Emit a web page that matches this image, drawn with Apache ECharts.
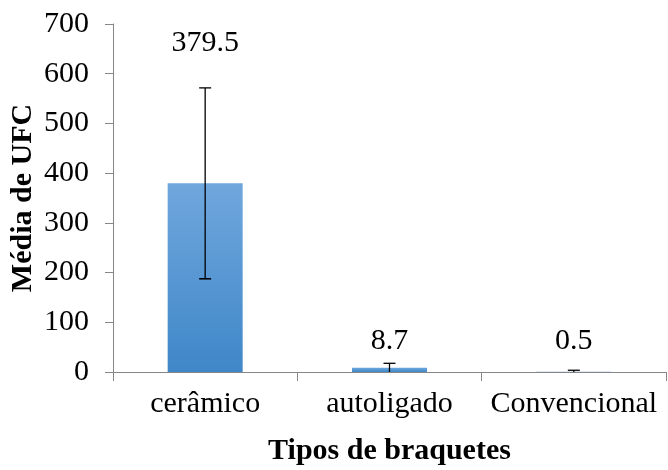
<!DOCTYPE html>
<html>
<head>
<meta charset="utf-8">
<script src="https://cdn.jsdelivr.net/npm/echarts@6/dist/echarts.min.js"></script>
<style>html,body{margin:0;padding:0;background:#fff}#c{width:668px;height:470px}</style>
</head>
<body>
<div id="c"></div>
<script>
const categories = ['cerâmico', 'autoligado', 'Convencional'];
const means = [379.5, 8.7, 0.5];
const errors = [192, 8.8, 3];
const yTicks = [0, 100, 200, 300, 400, 500, 600, 700];
const xTitle = 'Tipos de braquetes';
const yTitle = 'Média de UFC';

const font = 'Liberation Serif, Times New Roman, serif';
const labelDistance = [125, 12, 16];

const chart = echarts.init(document.getElementById('c'), null, {renderer: 'canvas'});
chart.setOption({
  animation: false,
  grid: {left: 113, right: 2, top: 24, bottom: 98, containLabel: false, outerBoundsMode: 'none'},
  xAxis: {
    type: 'category', data: categories,
    axisLine: {lineStyle: {color: '#868686', width: 1}},
    axisTick: {show: true, length: 9, alignWithLabel: false, lineStyle: {color: '#868686'}},
    axisLabel: {color: '#000', fontFamily: font, fontSize: 30, margin: 17, interval: 0, hideOverlap: false},
    name: xTitle, nameLocation: 'middle', nameGap: 64, nameMoveOverlap: false,
    nameTextStyle: {color: '#000', fontFamily: font, fontSize: 30, fontWeight: 'bold'}
  },
  yAxis: {
    type: 'value', min: yTicks[0], max: yTicks[yTicks.length - 1], interval: 100,
    axisLine: {show: true, lineStyle: {color: '#868686', width: 1}},
    axisTick: {show: true, length: 8, lineStyle: {color: '#868686'}},
    splitLine: {show: false},
    axisLabel: {color: '#000', fontFamily: font, fontSize: 30, margin: 24},
    name: yTitle, nameLocation: 'middle', nameGap: 75, nameRotate: 90, nameMoveOverlap: false,
    nameTextStyle: {color: '#000', fontFamily: font, fontSize: 30, fontWeight: 'bold'}
  },
  series: [
    {
      type: 'bar', barWidth: 75,
      data: means.map((v, i) => ({
        value: v,
        label: {show: true, position: 'top', distance: labelDistance[i], formatter: String(v),
                color: '#000', fontFamily: font, fontSize: 30}
      })),
      itemStyle: {color: new echarts.graphic.LinearGradient(0, 0, 0, 1, [
        {offset: 0, color: '#70a7dd'}, {offset: 1, color: '#3f87c8'}])}
    },
    {
      type: 'custom',
      data: means.map((v, i) => [i, v - errors[i], v + errors[i]]),
      renderItem: function (params, api) {
        const x = api.value(0);
        const lo = api.coord([x, Math.max(api.value(1), 0)]);
        const hi = api.coord([x, api.value(2)]);
        const cap = 6;
        const children = [
          {type: 'line', shape: {x1: hi[0], y1: hi[1], x2: lo[0], y2: lo[1]}, style: {stroke: '#000', lineWidth: 1.3}},
          {type: 'line', shape: {x1: hi[0] - cap, y1: hi[1], x2: hi[0] + cap, y2: hi[1]}, style: {stroke: '#000', lineWidth: 1.3}}
        ];
        if (api.value(1) > 0) {
          children.push({type: 'line', shape: {x1: lo[0] - cap, y1: lo[1], x2: lo[0] + cap, y2: lo[1]}, style: {stroke: '#000', lineWidth: 1.6}});
        }
        return {type: 'group', children: children};
      },
      z: 5
    }
  ]
});
</script>
</body>
</html>
